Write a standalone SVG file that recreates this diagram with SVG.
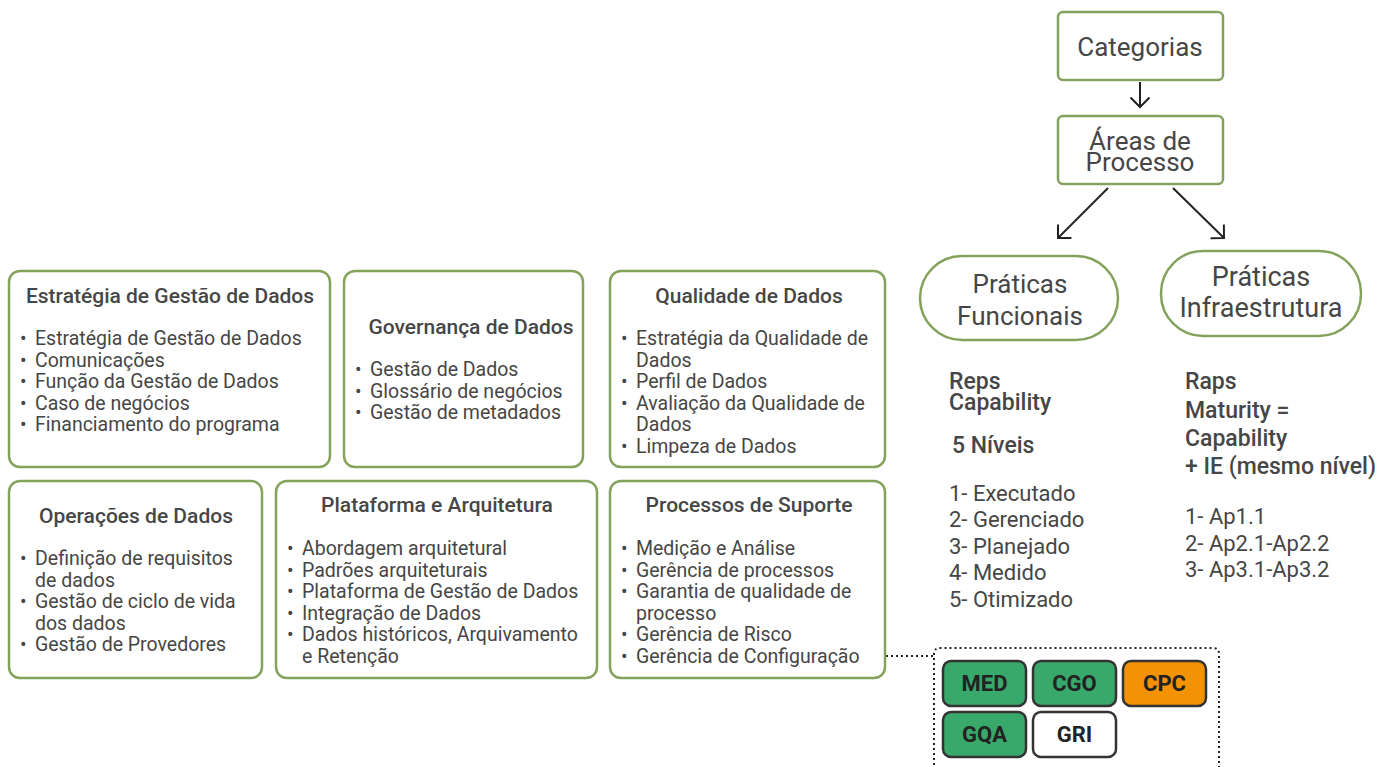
<svg xmlns="http://www.w3.org/2000/svg" width="1378" height="767" viewBox="0 0 1378 767">
<defs>
<style>
.box{fill:#fff;stroke:#85a25d;stroke-width:2.5}
.h{font-family:Roboto,"Liberation Sans",sans-serif;font-weight:500;font-size:21px;fill:#464646;text-anchor:middle}
.b{font-family:Roboto,"Liberation Sans",sans-serif;font-size:19.5px;fill:#464646}
.t{font-family:Roboto,"Liberation Sans",sans-serif;font-size:26px;fill:#464646;text-anchor:middle}
.r{font-family:Roboto,"Liberation Sans",sans-serif;font-size:22px;fill:#464646}
.rm{font-family:Roboto,"Liberation Sans",sans-serif;font-size:23px;font-weight:500;fill:#464646}
.sb{stroke:#333;stroke-width:2.5}
.st{font-family:Roboto,"Liberation Sans",sans-serif;font-size:22px;font-weight:700;fill:#222;text-anchor:middle}
.arr{stroke:#222;stroke-width:2;fill:none}
.dot{stroke:#222;stroke-width:2;stroke-dasharray:2 3;fill:none}
</style>
<marker id="ah" markerWidth="14" markerHeight="22" refX="10" refY="10" orient="auto" markerUnits="userSpaceOnUse">
<path d="M0.5,0.5 L10,10 L0.5,19.5" fill="none" stroke="#222" stroke-width="2"/>
</marker>
</defs>

<g id="connectors">
<line class="arr" x1="1140" y1="82" x2="1140" y2="107" marker-end="url(#ah)"/>
<line class="arr" x1="1108" y1="188" x2="1058" y2="238" marker-end="url(#ah)"/>
<line class="arr" x1="1173" y1="188" x2="1224" y2="238" marker-end="url(#ah)"/>
<polyline class="dot" points="886,656 934,656"/>
</g>

<g id="estrategia">
<rect class="box" x="9" y="271" width="321" height="196" rx="11"/>
<text class="h" x="170" y="303">Estratégia de Gestão de Dados</text>
<text class="b" x="20" y="345">•</text><text class="b" x="35" y="345">Estratégia de Gestão de Dados</text>
<text class="b" x="20" y="366.5">•</text><text class="b" x="35" y="366.5">Comunicações</text>
<text class="b" x="20" y="388">•</text><text class="b" x="35" y="388">Função da Gestão de Dados</text>
<text class="b" x="20" y="409.5">•</text><text class="b" x="35" y="409.5">Caso de negócios</text>
<text class="b" x="20" y="431">•</text><text class="b" x="35" y="431">Financiamento do programa</text>
</g>

<g id="governanca">
<rect class="box" x="344" y="271" width="239" height="196" rx="11"/>
<text class="h" x="471" y="334">Governança de Dados</text>
<text class="b" x="355" y="376">•</text><text class="b" x="370" y="376">Gestão de Dados</text>
<text class="b" x="355" y="397.5">•</text><text class="b" x="370" y="397.5">Glossário de negócios</text>
<text class="b" x="355" y="419">•</text><text class="b" x="370" y="419">Gestão de metadados</text>
</g>

<g id="qualidade">
<rect class="box" x="610" y="271" width="275" height="196" rx="11"/>
<text class="h" x="749" y="303">Qualidade de Dados</text>
<text class="b" x="621" y="345">•</text><text class="b" x="636" y="345">Estratégia da Qualidade de</text>
<text class="b" x="636" y="366.5">Dados</text>
<text class="b" x="621" y="388">•</text><text class="b" x="636" y="388">Perfil de Dados</text>
<text class="b" x="621" y="409.5">•</text><text class="b" x="636" y="409.5">Avaliação da Qualidade de</text>
<text class="b" x="636" y="431">Dados</text>
<text class="b" x="621" y="452.5">•</text><text class="b" x="636" y="452.5">Limpeza de Dados</text>
</g>

<g id="operacoes">
<rect class="box" x="9" y="481" width="253" height="197" rx="11"/>
<text class="h" x="136" y="523">Operações de Dados</text>
<text class="b" x="20" y="565">•</text><text class="b" x="35" y="565">Definição de requisitos</text>
<text class="b" x="35" y="586.5">de dados</text>
<text class="b" x="20" y="608">•</text><text class="b" x="35" y="608">Gestão de ciclo de vida</text>
<text class="b" x="35" y="629.5">dos dados</text>
<text class="b" x="20" y="651">•</text><text class="b" x="35" y="651">Gestão de Provedores</text>
</g>

<g id="plataforma">
<rect class="box" x="276" y="481" width="321" height="197" rx="11"/>
<text class="h" x="437" y="512">Plataforma e Arquitetura</text>
<text class="b" x="287" y="555">•</text><text class="b" x="302" y="555">Abordagem arquitetural</text>
<text class="b" x="287" y="576.5">•</text><text class="b" x="302" y="576.5">Padrões arquiteturais</text>
<text class="b" x="287" y="598">•</text><text class="b" x="302" y="598">Plataforma de Gestão de Dados</text>
<text class="b" x="287" y="619.5">•</text><text class="b" x="302" y="619.5">Integração de Dados</text>
<text class="b" x="287" y="641">•</text><text class="b" x="302" y="641">Dados históricos, Arquivamento</text>
<text class="b" x="302" y="662.5">e Retenção</text>
</g>

<g id="processos">
<rect class="box" x="610" y="481" width="275" height="197" rx="11"/>
<text class="h" x="749" y="512">Processos de Suporte</text>
<text class="b" x="621" y="555">•</text><text class="b" x="636" y="555">Medição e Análise</text>
<text class="b" x="621" y="576.5">•</text><text class="b" x="636" y="576.5">Gerência de processos</text>
<text class="b" x="621" y="598">•</text><text class="b" x="636" y="598">Garantia de qualidade de</text>
<text class="b" x="636" y="619.5">processo</text>
<text class="b" x="621" y="641">•</text><text class="b" x="636" y="641">Gerência de Risco</text>
<text class="b" x="621" y="662.5">•</text><text class="b" x="636" y="662.5">Gerência de Configuração</text>
</g>

<g id="categorias">
<rect class="box" x="1058" y="12" width="165" height="68" rx="5"/>
<text class="t" x="1140" y="56">Categorias</text>
</g>

<g id="areas">
<rect class="box" x="1058" y="116" width="165" height="68" rx="5"/>
<text class="t" x="1140" y="150">Áreas de</text>
<text class="t" x="1140" y="171">Processo</text>
</g>

<g id="praticas-funcionais">
<rect class="box" x="920" y="256" width="198" height="84" rx="42"/>
<text class="t" x="1020" y="293">Práticas</text>
<text class="t" x="1020" y="325">Funcionais</text>
</g>

<g id="praticas-infra">
<rect class="box" x="1161" y="251" width="200" height="85" rx="42"/>
<text class="t" x="1261" y="286" style="font-size:27px">Práticas</text>
<text class="t" x="1261" y="317" style="font-size:27px">Infraestrutura</text>
</g>

<g id="reps">
<text class="rm" x="949" y="389">Reps</text>
<text class="rm" x="949" y="410">Capability</text>
<text class="rm" x="952" y="453">5 Níveis</text>
<text class="r" x="949" y="500.5">1- Executado</text>
<text class="r" x="949" y="527">2- Gerenciado</text>
<text class="r" x="949" y="553.5">3- Planejado</text>
<text class="r" x="949" y="580">4- Medido</text>
<text class="r" x="949" y="606.5">5- Otimizado</text>
</g>

<g id="raps">
<text class="rm" x="1185" y="389">Raps</text>
<text class="rm" x="1185" y="418">Maturity =</text>
<text class="rm" x="1185" y="446">Capability</text>
<text class="rm" x="1185" y="474">+ IE (mesmo nível)</text>
<text class="r" x="1185" y="523.5">1- Ap1.1</text>
<text class="r" x="1185" y="550.5">2- Ap2.1-Ap2.2</text>
<text class="r" x="1185" y="576.5">3- Ap3.1-Ap3.2</text>
</g>

<g id="siglas">
<path class="dot" d="M934,780 L934,654 Q934,648 940,648 L1213,648 Q1219,648 1219,654 L1219,780"/>
<rect class="sb" x="943" y="661" width="83" height="45" rx="8" fill="#38a96a"/>
<text class="st" x="984.5" y="691">MED</text>
<rect class="sb" x="1033" y="661" width="83" height="45" rx="8" fill="#38a96a"/>
<text class="st" x="1074.5" y="691">CGO</text>
<rect class="sb" x="1123" y="661" width="83" height="45" rx="8" fill="#f39304"/>
<text class="st" x="1164.5" y="691">CPC</text>
<rect class="sb" x="943" y="712" width="83" height="45" rx="8" fill="#38a96a"/>
<text class="st" x="984.5" y="742">GQA</text>
<rect class="sb" x="1033" y="712" width="83" height="45" rx="8" fill="#fff"/>
<text class="st" x="1074.5" y="742">GRI</text>
</g>
</svg>
